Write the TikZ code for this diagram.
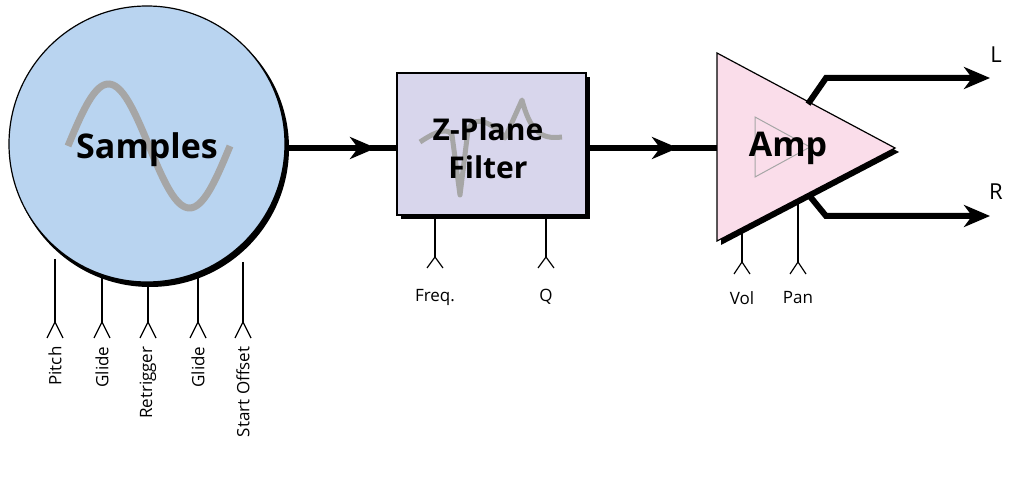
\documentclass[tikz,border=0pt]{standalone}
\usepackage{fontspec}
\setmainfont{Open Sans}
\usetikzlibrary{arrows.meta}
\definecolor{sampblue}{RGB}{185,212,240}
\definecolor{filtlav}{RGB}{216,214,236}
\definecolor{amppink}{RGB}{250,221,234}
\begin{document}
\begin{tikzpicture}[x=1pt,y=-1pt,
  thick line/.style={line width=6pt},
  stem/.style={line width=1.8pt},
  fork/.style={line width=1.2pt},
  lab/.style={font=\fontsize{17}{17}\selectfont},
  big/.style={font=\fontsize{34}{34}\selectfont\bfseries},
  arr/.style={thick line,-{Stealth[length=26pt,width=22pt,inset=8pt]}}]
\useasboundingbox (0,0) rectangle (1018,478);
% Samples
\fill[black] (150,148) circle (139);
\node[circle,draw,line width=1.2pt,fill=sampblue,minimum size=276pt,inner sep=0] (smp) at (147,144) {};
\draw[gray!70,line width=7pt] plot[domain=0:360,samples=80] ({68+\x*0.45},{146-62*sin(\x)});
\node[big] (smpt) at (147,150) {Samples};
% stems under samples
\foreach \xx/\yy/\t [count=\i] in {55/259/Pitch,102/276/Glide,148/283/Retrigger,198/278/Glide,243/262/Start Offset}{
  \coordinate (s\i) at (\xx,\yy);
  \coordinate (f\i) at (\xx,322);
  \draw[stem] (s\i) -- (f\i);
  \draw[fork] (\xx-8,338) -- (f\i) -- (\xx+8,338);
  \node[lab,rotate=90,anchor=east] (l\i) at (\xx,343) {\t};
}
% Filter
\fill[black] (401,77) rectangle (590,219);
\node[draw,line width=1.2pt,fill=filtlav,minimum width=189pt,minimum height=142pt,inner sep=0] (flt) at (491.5,144) {};
\draw[gray!70,line width=5pt,line join=round] (420,142) .. controls (438,130) and (448,128) .. (452,135) -- (460,195) -- (468,130) .. controls (476,110) and (500,130) .. (505,138) -- (522,100) .. controls (530,130) and (540,140) .. (562,137);
\node[big,align=center,font=\fontsize{30}{38}\selectfont\bfseries] (fltt) at (488,148) {Z-Plane\\Filter};
\foreach \xx/\t [count=\i] in {435/Freq.,546/Q}{
  \coordinate (fs\i) at (\xx,219);
  \coordinate (ff\i) at (\xx,257);
  \draw[stem] (fs\i) -- (ff\i);
  \draw[fork] (\xx-8,268) -- (ff\i) -- (\xx+8,268);
  \node[lab] (fl\i) at (\xx,297) {\t};
}
% main arrows
\coordinate (a1) at (376,148);
\coordinate (smpE) at (285,148);
\draw[arr] (smpE) -- (a1);
\draw[thick line] (370,148) -- (flt.west |- a1);
\coordinate (a2) at (678,148);
\draw[arr] (flt.east |- a2) -- (a2);
\draw[thick line] (672,148) -- (717,148);
% Amp
\fill[black] (721,58) -- (899,152) -- (721,245) -- cycle;
\draw[line width=1.2pt,fill=amppink] (717,53) coordinate (ampA) -- (895,148) coordinate (ampT) -- (717,241) coordinate (ampB) -- cycle;
\draw[gray!70,line width=1pt] (755,117) -- (810,147) -- (755,177) -- cycle;
\node[big] (ampt) at (788,148) {Amp};
\foreach \xx/\yy/\t [count=\i] in {742/228/Vol,798/200/Pan}{
  \coordinate (as\i) at (\xx,\yy);
  \coordinate (af\i) at (\xx,262);
  \draw[stem] (as\i) -- (af\i);
  \draw[fork] (\xx-8,274) -- (af\i) -- (\xx+8,274);
  \node[lab] (al\i) at (\xx,298) {\t};
}
% outputs
\coordinate (oL) at (990,78);
\coordinate (oR) at (990,216);
\draw[thick line,line join=miter,-{Stealth[length=26pt,width=22pt,inset=8pt]}] (808,104) -- (826,78) -- (oL);
\draw[thick line,line join=miter,-{Stealth[length=26pt,width=22pt,inset=8pt]}] (808,194) -- (826,216) -- (oR);
\node[lab,font=\fontsize{22}{22}\selectfont] (Lt) at (996,55) {L};
\node[lab,font=\fontsize{22}{22}\selectfont] (Rt) at (996,192) {R};
\end{tikzpicture}
\end{document}
